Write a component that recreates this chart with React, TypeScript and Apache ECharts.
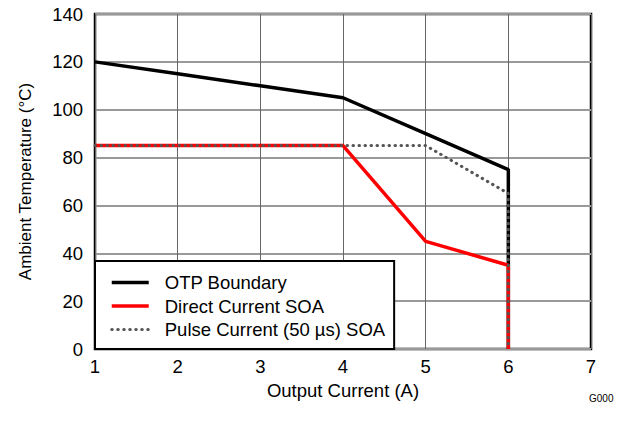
import React, { useEffect, useRef } from "react";
import * as echarts from "echarts";

const xTicks = [1, 2, 3, 4, 5, 6, 7];
const otpBoundary: [number, number][] = [
  [1, 120], [2, 115], [3, 110], [4, 105], [5, 90], [6, 75], [6, 0],
];
const directCurrentSOA: [number, number][] = [
  [1, 85], [4, 85], [5, 45], [6, 35], [6, 0],
];
const pulseCurrentSOA: [number, number][] = [
  [1, 85], [4, 85], [5, 85], [6, 65], [6, 0],
];
const seriesNames = ["OTP Boundary", "Direct Current SOA", "Pulse Current (50 µs) SOA"];

export default function App() {
  const ref = useRef<HTMLDivElement>(null);
  useEffect(() => {
    if (!ref.current) return;
    const chart = echarts.init(ref.current, undefined, { renderer: "svg" });
    const font = "Liberation Sans, Arial, sans-serif";
    chart.setOption({
      animation: false,
      backgroundColor: "#fff",
      grid: {
        left: 95, right: 34, top: 14, bottom: 75,
        show: true, borderColor: "#000", borderWidth: 2.5, backgroundColor: "transparent",
      },
      xAxis: {
        type: "value", min: xTicks[0], max: xTicks[xTicks.length - 1], interval: 1,
        name: "Output Current (A)", nameLocation: "middle", nameGap: 30,
        nameTextStyle: { fontFamily: font, fontSize: 18.5, color: "#000" },
        axisLine: { show: false },
        axisTick: { show: false },
        axisLabel: { fontFamily: font, fontSize: 18.5, color: "#000", margin: 8 },
        splitLine: { show: true, lineStyle: { color: "#666", width: 1 } },
      },
      yAxis: {
        type: "value", min: 0, max: 140, interval: 20,
        name: "Ambient Temperature (°C)", nameLocation: "middle", nameGap: 61,
        nameTextStyle: { fontFamily: font, fontSize: 17, color: "#000" },
        axisLine: { show: false },
        axisTick: { show: false },
        axisLabel: { fontFamily: font, fontSize: 18.5, color: "#000", margin: 12 },
        splitLine: { show: true, lineStyle: { color: "#999", width: 2 } },
      },
      legend: {
        orient: "vertical", left: 95, top: 261,
        data: seriesNames,
        backgroundColor: "#fff", borderColor: "#000", borderWidth: 2,
        padding: [12, 9, 10, 15],
        itemWidth: 37, itemHeight: 14, itemGap: 4.5,
        itemStyle: { opacity: 0 },
        lineStyle: { width: "inherit" },
        textStyle: { fontFamily: font, fontSize: 18.5, color: "#000", padding: [0, 0, 0, 11] },
      },
      series: [
        {
          name: seriesNames[0], type: "line", data: otpBoundary, symbol: "none",
          lineStyle: { color: "#000", width: 3.5 }, itemStyle: { color: "#000" }, z: 2,
        },
        {
          name: seriesNames[1], type: "line", data: directCurrentSOA, symbol: "none",
          lineStyle: { color: "#ff0000", width: 3.5 }, itemStyle: { color: "#ff0000" }, z: 3,
        },
        {
          name: seriesNames[2], type: "line", data: pulseCurrentSOA, symbol: "none",
          lineStyle: { color: "#555", width: 3, type: [0.5, 5.5], cap: "round" },
          itemStyle: { color: "#555" }, z: 4,
        },
      ],
      graphic: [
        {
          type: "text", left: 589, top: 393,
          style: { text: "G000", fontFamily: font, fontSize: 10, fill: "#000" },
        },
      ],
    });
    return () => chart.dispose();
  }, []);
  return <div ref={ref} style={{ width: 625, height: 424, position: "absolute", left: 0, top: 0 }} />;
}
